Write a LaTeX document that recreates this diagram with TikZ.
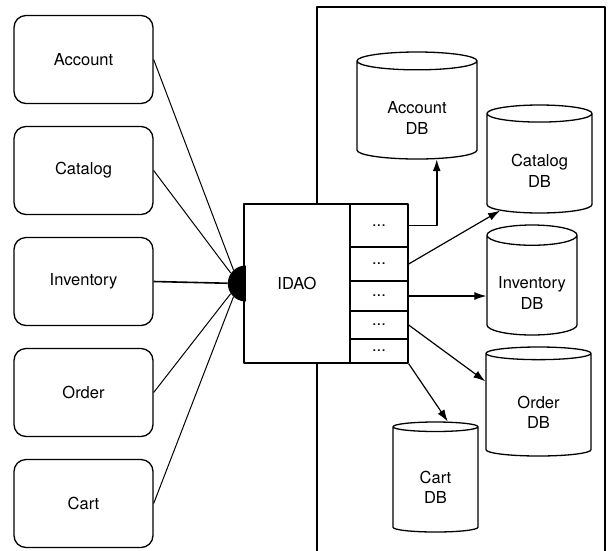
\documentclass[tikz,border=0pt]{standalone}
\usepackage{fontspec}
\setmainfont{TeX Gyre Heros}
\usetikzlibrary{shapes.geometric,arrows.meta}

\newcommand\dbtext[1]{\raisebox{-9.5pt}[\height][\depth]{\begin{tabular}{@{}c@{}}#1\\DB\end{tabular}}}

\begin{document}
\begin{tikzpicture}[x=1pt,y=-1pt,line join=round,font=\fontsize{16.5}{20.5}\selectfont]

	\tikzstyle client box=[draw, line width=1.3pt, rounded corners=12pt, minimum width=139pt, minimum height=88pt];
	\tikzstyle slot box=[draw, line width=1.3pt, fill=white, minimum width=58pt, inner sep=0pt];
	\tikzstyle data store=[draw, line width=1.3pt, fill=white, shape=cylinder, shape border rotate=90, aspect=0.3, inner sep=0pt];
	\tikzstyle call lines=[line width=1pt];
	\tikzstyle store arrows=[line width=1.2pt, -{Latex[length=12pt,width=8pt]}];

	\useasboundingbox (0,0) rectangle (608,550);

	% frame round the data side
	\draw[line width=1.3pt] (317,552) -- (317,7) -- (605,7) -- (605,552);

	\foreach \y/\name/\txt in {59.5/acct/Account,170.5/ctlg/Catalog,281.5/inv/Inventory,392.5/ord/Order,503.5/cart/Cart}
		\node[client box] (\name) at (83.5,\y) {\txt};

	\node[draw, line width=1.3pt, fill=white, minimum width=106pt, minimum height=159pt] (idao) at (297,283.5) {IDAO};
	\foreach \t/\b/\n in {204/247/1,247/281/2,281/311/3,311/339/4,339/363/5}
		\node[slot box, minimum height={(\b-\t)*1pt}] (slot\n) at (379,{(\t+\b)/2}) {...};

	\node[fill, shape=semicircle, shape border rotate=90, inner sep=0pt, minimum size=18pt, anchor=chord center] (port) at (246,283.5) {};

	\foreach \name in {acct,ctlg,ord,cart}
		\draw[call lines] (\name.east) -- (port);
	\draw[call lines, line width=1.6pt] (inv.east) -- (port);

	% databases
	\node[data store, minimum width=120pt, minimum height=107pt, anchor=shape center] (acctdb) at (417,105.5) {\dbtext{Account}};
	\node[data store, minimum width=105pt, minimum height=108pt, anchor=shape center] (ctlgdb) at (539.5,159) {\dbtext{Catalog}};
	\node[data store, minimum width=90pt, minimum height=110pt, anchor=shape center] (invdb) at (532,280) {\dbtext{Inventory}};
	\node[data store, minimum width=105pt, minimum height=109pt, anchor=shape center] (orddb) at (538.5,401.5) {\dbtext{Order}};
	\node[data store, minimum width=85pt, minimum height=110pt, anchor=shape center] (cartdb) at (435.5,477) {\dbtext{Cart}};

	\draw[store arrows, line width=1.8pt] (slot1.east) -| (acctdb.-68);
	\draw[store arrows] (slot2.east) -- (ctlgdb.230);
	\draw[store arrows] (slot3.east) -- (slot3.east -| invdb.180);
	\draw[store arrows] (slot4.east) -- (orddb.156);
	\draw[store arrows] (slot5.south east) -- (cartdb.78);

\end{tikzpicture}
\end{document}
